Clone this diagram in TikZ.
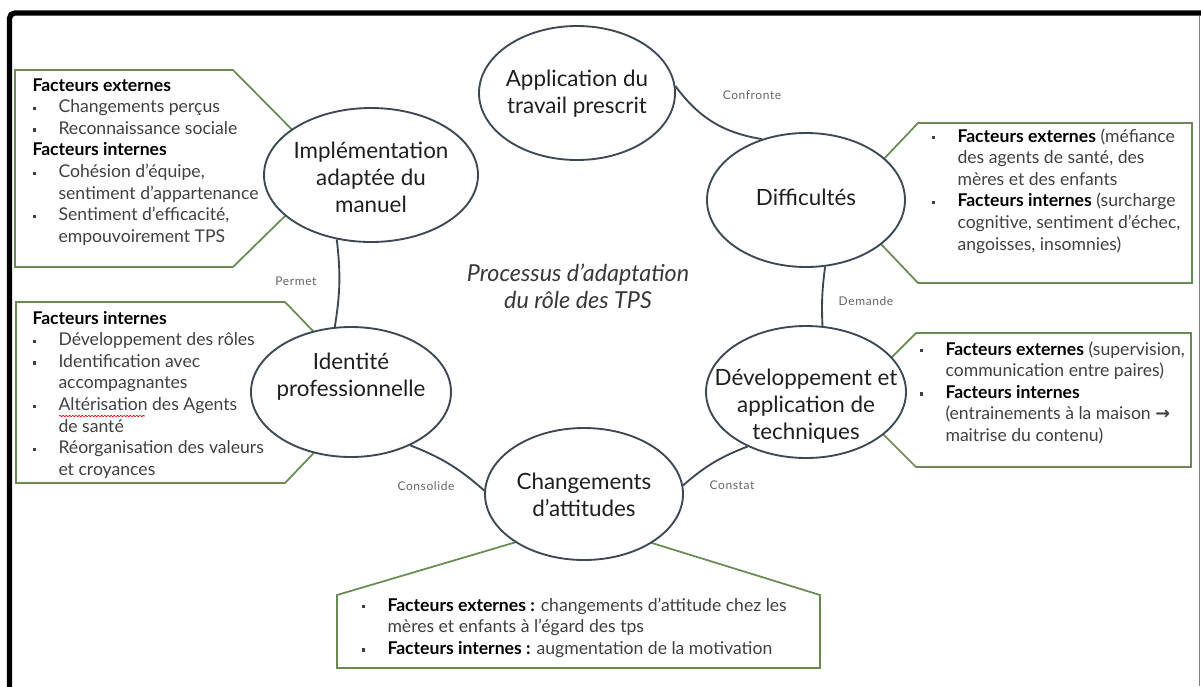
\documentclass[tikz,border=0pt]{standalone}
\usepackage{fontspec}
\setmainfont{Lato}
\newfontfamily\flechefont{DejaVu Sans}
\usetikzlibrary{shapes.geometric,decorations.pathmorphing}

\definecolor{contour}{RGB}{60,72,84}
\definecolor{vertcadre}{RGB}{104,138,84}
\definecolor{textegris}{RGB}{64,64,64}
\definecolor{liengris}{RGB}{100,100,100}

\newcommand{\puce}{\makebox[19.5pt][l]{\raisebox{0.3ex}{\rule{2.4pt}{2.4pt}}}}
\newcommand{\suite}{\hspace*{19.5pt}}
\newcommand{\fact}[1]{\textcolor{black}{\textbf{#1}}}

\tikzset{every picture/.style={line width=0.75pt}}
\tikzset{
  etape/.style={ellipse, draw=contour, line width=1.4pt, fill=white, inner sep=0pt},
  etapetexte/.style={align=center, inner sep=0pt, text=black!88, font=\fontsize{16.8}{20.25}\selectfont},
  lien/.style={draw=contour, line width=1.4pt},
  lienlbl/.style={inner sep=0pt, text=liengris, font=\fontsize{9}{10}\selectfont\addfontfeature{LetterSpace=5}},
  cadre/.style={draw=vertcadre, line width=1.3pt, fill=white},
  boite/.style={align=left, inner sep=0pt, text=textegris, font=\fontsize{13.2}{16.2}\selectfont}
}

\begin{document}
\begin{tikzpicture}[x=0.75pt,y=0.75pt,yscale=-1,xscale=1]
\useasboundingbox (0,0) rectangle (1201,686);

% frame
\draw [line width=4pt, rounded corners=4pt] (9.5,690) -- (9.5,13) -- (1205,13) ;
\draw [color=gray, line width=0.9pt] (1199.5,16) -- (1199.5,686) ;

% callout boxes
\draw [cadre] (15,70) -- (233,70) -- (332,170) -- (233,267) -- (15,267) -- cycle ;
\draw [cadre] (16,302) -- (285,302) -- (372,392) -- (285,483) -- (16,483) -- cycle ;
\draw [cadre] (918,123) -- (1192,123) -- (1192,283) -- (918,283) -- (842,203) -- cycle ;
\draw [cadre] (916,333) -- (1191,333) -- (1191,467) -- (916,467) -- (849,400) -- cycle ;
\draw [cadre] (337,595) -- (584,522) -- (820,595) -- (820,668) -- (337,668) -- cycle ;

% ellipses
\node [etape, minimum width=147pt, minimum height=100.5pt] (app) at (577,93) {};
\node [etape, minimum width=148.5pt, minimum height=100.5pt] (dif) at (806,200) {};
\node [etape, minimum width=150pt, minimum height=99pt] (dev) at (806,392) {};
\node [etape, minimum width=148.5pt, minimum height=99pt] (chg) at (584,494) {};
\node [etape, minimum width=150pt, minimum height=97.5pt] (idn) at (351,392) {};
\node [etape, minimum width=160.5pt, minimum height=100.5pt] (imp) at (371,175) {};

\node [etapetexte] (app-t) at (577,94) {Application du\\travail prescrit};
\node [etapetexte] (dif-t) at (806,197) {Difficultés};
\node [etapetexte] (dev-t) at (806,406) {Développement et\\application de\\techniques};
\node [etapetexte] (chg-t) at (584,495) {Changements\\d'attitudes};
\node [etapetexte] (idn-t) at (351,377) {Identité\\professionnelle};
\node [etapetexte] (imp-t) at (371,177) {Implémentation\\adaptée du\\manuel};

% connectors
\draw [lien] (app.4) to[bend left=22] (dif.126) ;
\draw [lien] (dif.-74) to[bend left=5] (dev.76) ;
\draw [lien] (dev.223) to[bend left=10] (chg.5) ;
\draw [lien] (chg.178) to[bend left=10] (idn.-42) ;
\draw [lien] (idn.104) to[bend left=8] (imp.242) ;

\node [lienlbl] (l-conf) at (752,95) {Confronte};
\node [lienlbl] (l-dem) at (866,301) {Demande};
\node [lienlbl] (l-cons) at (732,485) {Constat};
\node [lienlbl] (l-conso) at (426,486) {Consolide};
\node [lienlbl] (l-perm) at (296,281) {Permet};

% center title
\node [align=center, inner sep=0pt, text=black!78, font=\fontsize{17.5}{20.25}\selectfont\itshape] (titre) at (578,286) {Processus d'adaptation\\du rôle des TPS};

% box texts (base = last line)
\node [boite, anchor=base west] (imp-f) at (32,242.2) {\fact{Facteurs externes}\\
\puce Changements perçus\\
\puce Reconnaissance sociale\\
\fact{Facteurs internes}\\
\puce Cohésion d'équipe,\\
\suite sentiment d'appartenance\\
\puce Sentiment d'efficacité,\\
\suite empouvoirement TPS};

\node [boite, anchor=base west] (idn-f) at (32,475.2) {\fact{Facteurs internes}\\
\puce Développement des rôles\\
\puce Identification avec\\
\suite accompagnantes\\
\puce Altérisation des Agents\\
\suite de santé\\
\puce Réorganisation des valeurs\\
\suite et croyances};
\draw [red, line width=0.5pt, decorate, decoration={snake, amplitude=0.5pt, segment length=2.4pt}] (59,416) -- (145,416) ;

\node [boite, anchor=base west] (dif-f) at (931,250) {\puce\fact{Facteurs externes} (méfiance\\
\suite des agents de santé, des\\
\suite mères et des enfants\\
\puce\fact{Facteurs internes} (surcharge\\
\suite cognitive, sentiment d'échec,\\
\suite angoisses, insomnies)};

\node [boite, anchor=base west] (dev-f) at (919,441.4) {\puce\fact{Facteurs externes} (supervision,\\
\suite communication entre paires)\\
\puce\fact{Facteurs internes}\\
\suite (entrainements à la maison {\flechefont\textbf{→}}\\
\suite maitrise du contenu)};

\node [boite, anchor=base west] (chg-f) at (361,654.2) {\puce\fact{Facteurs externes :} changements d'attitude chez les\\
\suite mères et enfants à l'égard des tps\\
\puce\fact{Facteurs internes :} augmentation de la motivation};

\end{tikzpicture}
\end{document}
